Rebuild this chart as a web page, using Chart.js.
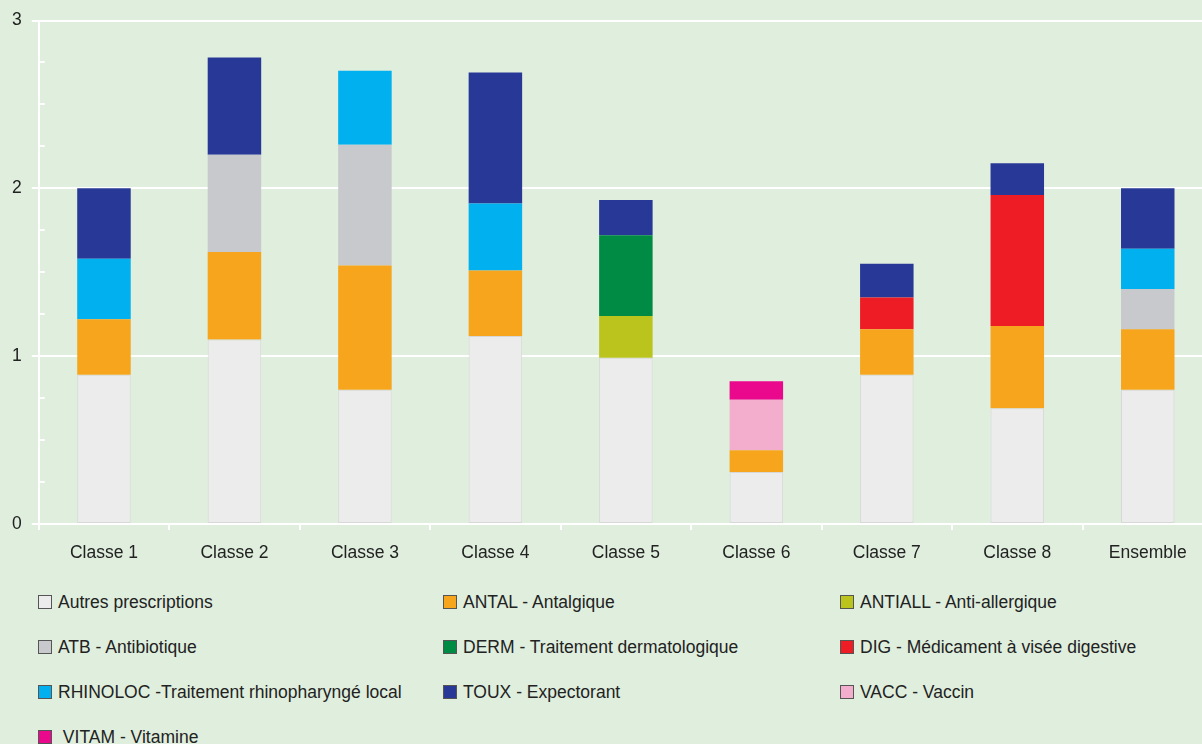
<!DOCTYPE html>
<html>
<head>
<meta charset="utf-8">
<script src="https://cdn.jsdelivr.net/npm/chart.js@4/dist/chart.umd.min.js"></script>
<style>
  html, body { margin: 0; padding: 0; background: #dfeedd; overflow: hidden; }
  body { width: 1202px; height: 744px; position: relative; font-family: "Liberation Sans", Arial, sans-serif; }
  #wrap { position: absolute; left: 0; top: 0; width: 1213px; height: 577px; }
  #legend { position: absolute; left: 38px; top: 589px; width: 1164px; display: grid;
    grid-template-columns: 405px 397px 360px; grid-auto-rows: 45px; font-size: 17.5px; color: #222; }
  .item { display: flex; align-items: flex-start; line-height: 26px; white-space: nowrap; }
  .box { width: 12px; height: 12px; border: 1px solid #555; margin: 6px 6px 0 0; flex: none; }
</style>
</head>
<body>
<div id="wrap"><canvas id="chart"></canvas></div>
<div id="legend"></div>
<script>
const categories = ['Classe 1', 'Classe 2', 'Classe 3', 'Classe 4', 'Classe 5', 'Classe 6', 'Classe 7', 'Classe 8', 'Ensemble'];

// values, one list per series (bottom of stack first)
const autres   = [0.89, 1.10, 0.80, 1.12, 0.99, 0.31, 0.89, 0.69, 0.80];
const antal    = [0.33, 0.52, 0.74, 0.39, 0,    0.13, 0.27, 0.49, 0.36];
const antiall  = [0,    0,    0,    0,    0.25, 0,    0,    0,    0];
const atb      = [0,    0.58, 0.72, 0,    0,    0,    0,    0,    0.24];
const derm     = [0,    0,    0,    0,    0.48, 0,    0,    0,    0];
const dig      = [0,    0,    0,    0,    0,    0,    0.19, 0.78, 0];
const rhinoloc = [0.36, 0,    0.44, 0.40, 0,    0,    0,    0,    0.24];
const toux     = [0.42, 0.58, 0,    0.78, 0.21, 0,    0.20, 0.19, 0.36];
const vacc     = [0,    0,    0,    0,    0,    0.30, 0,    0,    0];
const vitam    = [0,    0,    0,    0,    0,    0.11, 0,    0,    0];

const yTicks = [0, 1, 2, 3];

const series = [
  { label: 'Autres prescriptions', data: autres, color: '#ececec' },
  { label: 'ANTAL - Antalgique', data: antal, color: '#f6a51d' },
  { label: 'ANTIALL - Anti-allergique', data: antiall, color: '#bac41d' },
  { label: 'ATB - Antibiotique', data: atb, color: '#c8c9cd' },
  { label: 'DERM - Traitement dermatologique', data: derm, color: '#008b44' },
  { label: 'DIG - Médicament à visée digestive', data: dig, color: '#ee1d25' },
  { label: 'RHINOLOC -Traitement rhinopharyngé local', data: rhinoloc, color: '#00b0ef' },
  { label: 'TOUX - Expectorant', data: toux, color: '#283896' },
  { label: 'VACC - Vaccin', data: vacc, color: '#f3aece' },
  { label: '\u00a0VITAM - Vitamine', data: vitam, color: '#ea098c' }
];

// minor ticks drawn inward on the y axis
const minorTicks = {
  id: 'minorTicks',
  afterDraw(chart) {
    const y = chart.scales.y;
    const ctx = chart.ctx;
    ctx.save();
    ctx.strokeStyle = '#ffffff';
    ctx.lineWidth = 2;
    for (let v = 0.25; v < 3; v += 0.25) {
      if (Number.isInteger(v)) continue;
      const py = Math.round(y.getPixelForValue(v));
      ctx.beginPath();
      ctx.moveTo(y.right, py);
      ctx.lineTo(y.right + 6, py);
      ctx.stroke();
    }
    ctx.restore();
  }
};

Chart.defaults.font.family = '"Liberation Sans", Arial, sans-serif';
Chart.defaults.font.size = 17.5;
Chart.defaults.color = '#222';

new Chart(document.getElementById('chart'), {
  type: 'bar',
  data: {
    labels: categories,
    datasets: series.map((s, i) => ({
      label: s.label,
      data: s.data,
      backgroundColor: s.color,
      borderColor: i === 0 ? '#d8d8d8' : s.color,
      borderWidth: i === 0 ? 1 : 0,
      borderSkipped: false,
      barPercentage: 0.41,
      categoryPercentage: 1
    }))
  },
  options: {
    responsive: true,
    maintainAspectRatio: false,
    animation: false,
    layout: { padding: { left: 2, top: 19, right: 0, bottom: 0 } },
    plugins: { legend: { display: false }, tooltip: { enabled: false } },
    scales: {
      x: {
        stacked: true,
        border: { display: false },
        grid: { offset: true, drawOnChartArea: false, color: '#ffffff', tickColor: '#ffffff', tickLength: 6, lineWidth: 2 },
        ticks: { padding: 13, color: '#222' }
      },
      y: {
        stacked: true,
        min: 0,
        max: 3,
        afterBuildTicks: axis => { axis.ticks = yTicks.map(v => ({ value: v })); },
        border: { display: true, color: '#ffffff', width: 2 },
        grid: { color: '#ffffff', lineWidth: 2, tickLength: 7, tickColor: '#ffffff' },
        ticks: { padding: 10, color: '#222' }
      }
    }
  },
  plugins: [minorTicks]
});

const legend = document.getElementById('legend');
series.forEach(s => {
  const item = document.createElement('div');
  item.className = 'item';
  const box = document.createElement('span');
  box.className = 'box';
  box.style.background = s.color;
  const txt = document.createElement('span');
  txt.textContent = s.label;
  item.appendChild(box);
  item.appendChild(txt);
  legend.appendChild(item);
});
</script>
</body>
</html>
